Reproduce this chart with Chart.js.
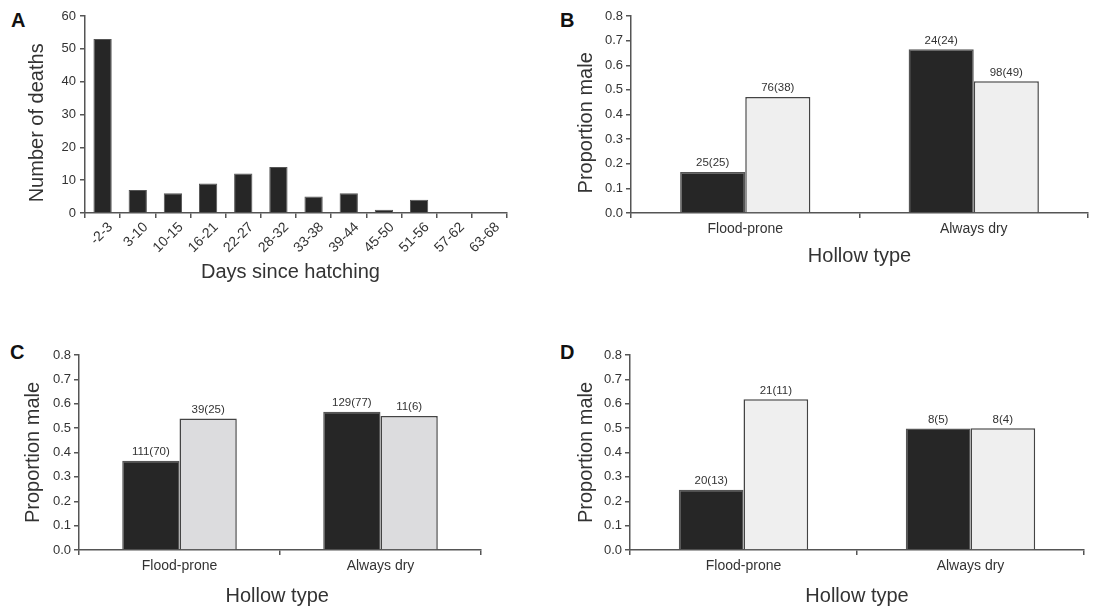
<!DOCTYPE html>
<html>
<head>
<meta charset="utf-8">
<script src="https://cdn.jsdelivr.net/npm/chart.js@4.4.1/dist/chart.umd.min.js"></script>
<style>
  body { margin: 0; background: #fff; width: 1103px; height: 608px; position: relative; overflow: hidden; }
  canvas { position: absolute; }
  .letter { position: absolute; font: bold 20px "Liberation Sans", Arial, sans-serif; color: #111; }
</style>
</head>
<body>
<div class="letter" style="left:11px;top:9px">A</div>
<div class="letter" style="left:560px;top:9px">B</div>
<div class="letter" style="left:10px;top:341px">C</div>
<div class="letter" style="left:560px;top:341px">D</div>

<canvas id="chartA" width="520" height="300" style="left:0;top:0"></canvas>
<canvas id="chartB" width="543" height="300" style="left:560px;top:0"></canvas>
<canvas id="chartC" width="500" height="268" style="left:0;top:340px"></canvas>
<canvas id="chartD" width="543" height="268" style="left:560px;top:340px"></canvas>

<script>
// panel A
const diasLabels = ["-2-3", "3-10", "10-15", "16-21", "22-27", "28-32", "33-38", "39-44", "45-50", "51-56", "57-62", "63-68"];
const muertes = [53, 7, 6, 9, 12, 14, 5, 6, 1, 4, 0, 0];

// panels B, C, D
const huecos = ["Flood-prone", "Always dry"];

const propB_oscuro = [0.167, 0.665];
const propB_claro = [0.471, 0.535];
const nB_oscuro = ["25(25)", "24(24)"];
const nB_claro = ["76(38)", "98(49)"];

const propC_oscuro = [0.366, 0.567];
const propC_claro = [0.539, 0.55];
const nC_oscuro = ["111(70)", "129(77)"];
const nC_claro = ["39(25)", "11(6)"];

const propD_oscuro = [0.247, 0.498];
const propD_claro = [0.618, 0.5];
const nD_oscuro = ["20(13)", "8(5)"];
const nD_claro = ["21(11)", "8(4)"];

const FUENTE = '"Liberation Sans", Arial, sans-serif';
const GRIS_EJE = "#555";
const GRIS_TEXTO = "#333";

Chart.defaults.font.family = FUENTE;
Chart.defaults.color = GRIS_TEXTO;

const etiquetasPlugin = {
    id: "etiquetas",
    afterDatasetsDraw(chart){
        const ctx = chart.ctx;
        ctx.save();
        ctx.font = "11.5px " + FUENTE;
        ctx.fillStyle = GRIS_TEXTO;
        ctx.textAlign = "center";
        ctx.textBaseline = "bottom";
        chart.data.datasets.forEach((ds, i) => {
            if(!ds.cuentas) return;
            chart.getDatasetMeta(i).data.forEach((el, j) => {
                ctx.fillText(ds.cuentas[j], el.x, el.y - 3);
            });
        });
        ctx.restore();
    }
};

function ejeComun(){
    return {
        border: { display: true, color: GRIS_EJE, width: 1.5 },
        grid: { display: true, drawOnChartArea: false, drawTicks: true, tickLength: 5, color: GRIS_EJE, lineWidth: 1.5 }
    };
}

// A
new Chart(document.getElementById("chartA"), {
    type: "bar",
    data: {
        labels: diasLabels,
        datasets: [{
            data: muertes,
            backgroundColor: "#262626",
            borderColor: "#555",
            borderWidth: 1,
            categoryPercentage: 1,
            barPercentage: 0.52
        }]
    },
    options: {
        responsive: false,
        animation: false,
        layout: { padding: { top: 16, right: 13, bottom: 0, left: 0 } },
        plugins: { legend: { display: false }, tooltip: { enabled: false } },
        scales: {
            x: {
                ...ejeComun(),
                ticks: { font: { size: 14 }, minRotation: 45, maxRotation: 45, padding: 1, labelOffset: 8, autoSkip: false },
                // espacios finales para correr el titulo a la izquierda como en la figura
                title: { display: true, text: "Days since hatching  ", font: { size: 20 }, color: GRIS_TEXTO, padding: { top: 0, bottom: 16 } },
                afterFit: s => { s.height = 87; }
            },
            y: {
                ...ejeComun(),
                min: 0, max: 60,
                ticks: { stepSize: 10, font: { size: 13 }, padding: 4 },
                title: { display: true, text: "Number of deaths   ", font: { size: 20 }, color: GRIS_TEXTO, padding: { top: 25, bottom: 0 } },
                afterFit: s => { s.width = 85; }
            }
        }
    }
});

function panelProporcion(id, oscuro, claro, nOscuro, nClaro, colorClaro, cfg){
    new Chart(document.getElementById(id), {
        type: "bar",
        data: {
            labels: huecos,
            datasets: [
                { data: oscuro, cuentas: nOscuro, backgroundColor: "#262626", borderColor: "#555", borderWidth: 1.5, categoryPercentage: 0.57, barPercentage: 1 },
                { data: claro, cuentas: nClaro, backgroundColor: colorClaro, borderColor: "#444", borderWidth: 1.5, categoryPercentage: 0.57, barPercentage: 1 }
            ]
        },
        options: {
            responsive: false,
            animation: false,
            layout: { padding: { top: cfg.top, right: cfg.right, bottom: 0, left: 0 } },
            plugins: { legend: { display: false }, tooltip: { enabled: false } },
            scales: {
                x: {
                    ...ejeComun(),
                    ticks: { font: { size: 14 }, padding: 3 },
                    title: { display: true, text: "Hollow type" + cfg.espX, font: { size: 20 }, color: GRIS_TEXTO, padding: { top: 0, bottom: cfg.tituloX } },
                    afterFit: s => { s.height = cfg.altoX; }
                },
                y: {
                    ...ejeComun(),
                    min: 0, max: 0.8,
                    ticks: { stepSize: 0.1, font: { size: 13 }, padding: 3, callback: v => v.toFixed(1) },
                    title: { display: true, text: "Proportion male" + cfg.espY, font: { size: 20 }, color: GRIS_TEXTO, padding: { top: cfg.tituloY, bottom: 0 } },
                    afterFit: s => { s.width = cfg.anchoY; }
                }
            }
        },
        plugins: [etiquetasPlugin]
    });
}

panelProporcion("chartB", propB_oscuro, propB_claro, nB_oscuro, nB_claro, "#efefef",
    { top: 16, right: 15, altoX: 87, anchoY: 71, tituloX: 32, tituloY: 14, espX: "", espY: "   " });
panelProporcion("chartC", propC_oscuro, propC_claro, nC_oscuro, nC_claro, "#dcdcde",
    { top: 15, right: 19, altoX: 58, anchoY: 79, tituloX: 0, tituloY: 21, espX: " ", espY: "" });
panelProporcion("chartD", propD_oscuro, propD_claro, nD_oscuro, nD_claro, "#efefef",
    { top: 15, right: 19, altoX: 58, anchoY: 70, tituloX: 0, tituloY: 14, espX: "", espY: "" });
</script>
</body>
</html>
